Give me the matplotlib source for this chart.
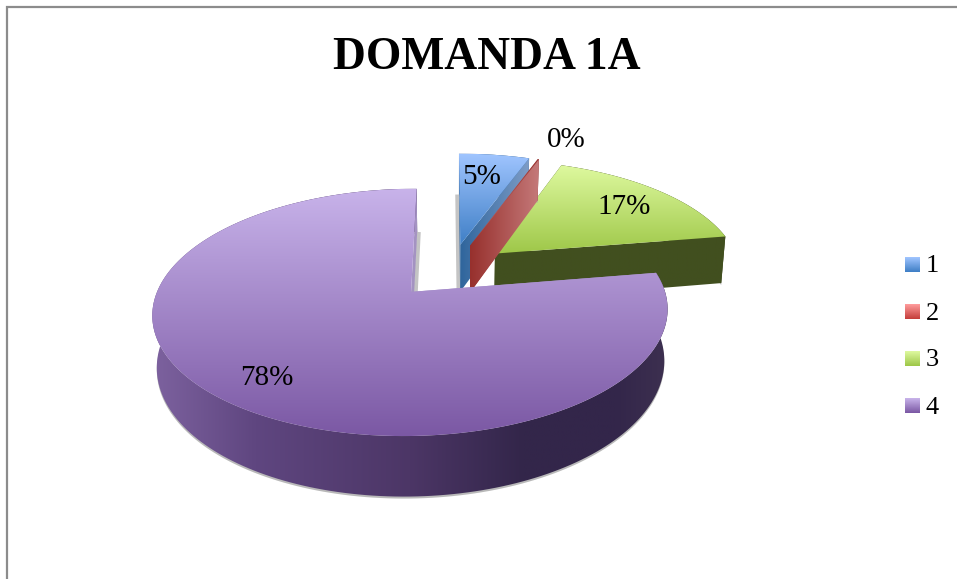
import numpy as np
import matplotlib
matplotlib.use('Agg')
import matplotlib.pyplot as plt
from matplotlib.colors import LinearSegmentedColormap
from matplotlib.patches import Polygon

# data
categories = ['1', '2', '3', '4']
values = [5.49, 0.1, 16.81, 77.6]
title = 'DOMANDA 1A'

# colours per slice: top gradient (back to front), cut face, outer wall
top_colors = [['#a0c5ff', '#3f7fc6'], ['#ff9c9c', '#c43e3b'], ['#def99f', '#9ec748'], ['#c8b3ea', '#7b58a4']]
legend_colors = top_colors
slice_top = [top_colors[0], ['#97302d', '#c57a7a'], top_colors[2], top_colors[3]]
face_colors = [['#2f659c', '#7d9cc6'], ['#97302d', '#c57a7a'], ['#414f1f', '#414f1f'], ['#a493c2', '#a493c2']]
wall_colors = [['#2f659c', '#2f659c'], ['#97302d', '#97302d'], ['#414f1f', '#414f1f'],
               [(0, '#7d629f'), (0.2, '#5f4680'), (0.5, '#4c3666'), (0.72, '#33264a'), (0.9, '#33264a'), (1, '#3d3050')]]

# perspective layout, in pixels
CX, CY = 450.5, 270.5
SCALE_X, SCALE_Y = 246.5, 113.3
PERSP = 0.161
DEPTH = 49
EXPLODE = 0.24
LABEL_R = [0.78, 1.32, 0.77, 0.78]
LABEL_NUDGE = [(-6, 4), (10, 4), (0, 3), (2, 7)]
STRIP_SIDE = [-1.5, 0, 0, 1.5]
FONT = 'Liberation Serif'

plt.rcParams['font.family'] = [FONT, 'DejaVu Serif']

fig = plt.figure(figsize=(9.57, 5.79), dpi=100)
ax = fig.add_axes([0, 0, 1, 1])


def project(u, v):
	d = 1 + PERSP * v
	return CX + SCALE_X * u / d, CY - SCALE_Y * v / d


def sink(x, y, v):
	# same point on the lower face of the disc
	return CX + (x - CX) * 0.985, y + DEPTH / (1 + PERSP * v)


def gradient(poly, colors, vertical):
	xs, ys = poly[:, 0], poly[:, 1]
	cmap = LinearSegmentedColormap.from_list('g', colors)
	ramp = np.linspace(0, 1, 256)
	ramp = ramp.reshape(-1, 1) if vertical else ramp.reshape(1, -1)
	patch = Polygon(poly, closed=True, facecolor='none', edgecolor='none', transform=ax.transData)
	ax.add_patch(patch)
	im = ax.imshow(ramp, cmap=cmap, aspect='auto', interpolation='bilinear',
		extent=[xs.min(), xs.max(), ys.max(), ys.min()], zorder=2)
	im.set_clip_path(patch)


def face(theta, ou, ov):
	u = np.array([ou, ou + np.sin(theta)])
	v = np.array([ov, ov + np.cos(theta)])
	x, y = project(u, v)
	xb, yb = sink(x, y, v)
	return np.column_stack([np.r_[x, xb[::-1]], np.r_[y, yb[::-1]]])


def draw_slice(i, start, end):
	mid = (start + end) / 2
	ou, ov = EXPLODE * np.sin(mid), EXPLODE * np.cos(mid)
	t = np.linspace(start, end, 200)
	u = ou + np.sin(t)
	v = ov + np.cos(t)
	x, y = project(u, v)
	xb, yb = sink(x, y, v)

	# soft shadow under the wall
	ax.fill(np.r_[x, xb[::-1]], np.r_[y, yb[::-1] + 2], color='#a8a8a8', alpha=0.8, lw=0, zorder=2)

	# grey strip next to the cut at twelve o'clock
	if STRIP_SIDE[i] != 0:
		f = face(0, ou, ov)
		ax.plot([f[2, 0] + STRIP_SIDE[i], f[3, 0] + STRIP_SIDE[i]], [f[2, 1], f[3, 1]],
			color='#c4c4c4', lw=3, solid_capstyle='butt', zorder=2)

	wall = np.column_stack([np.r_[x, xb[::-1]], np.r_[y, yb[::-1]]])
	gradient(wall, wall_colors[i], False)
	gradient(face(start, ou, ov), face_colors[i], False)
	gradient(face(end, ou, ov), face_colors[i], False)

	ax0, ay0 = project(ou, ov)
	top = np.column_stack([np.r_[ax0, x], np.r_[ay0, y]])
	gradient(top, slice_top[i], True)


edges = np.r_[0, np.cumsum(values)] / np.sum(values) * 2 * np.pi
for i in [2, 0, 1, 3]:
	draw_slice(i, edges[i], edges[i + 1])

# percent labels
for i in range(len(values)):
	mid = (edges[i] + edges[i + 1]) / 2
	u = (EXPLODE + LABEL_R[i]) * np.sin(mid)
	v = (EXPLODE + LABEL_R[i]) * np.cos(mid)
	lx, ly = project(u, v)
	pct = round(values[i] / sum(values) * 100)
	ax.text(lx + LABEL_NUDGE[i][0], ly + LABEL_NUDGE[i][1], '%d%%' % pct, fontsize=21,
		ha='center', va='center', color='black', zorder=5)

ax.text(487, 58, title, fontsize=32.8, fontweight='bold', ha='center', va='center', color='black', zorder=5)

# legend
for i, name in enumerate(categories):
	y0 = 257 + i * 47
	cmap = LinearSegmentedColormap.from_list('g', legend_colors[i])
	ax.imshow(np.linspace(0, 1, 32).reshape(-1, 1), cmap=cmap, aspect='auto',
		extent=[905, 920, y0 + 15, y0], zorder=3)
	ax.text(926, y0 + 9.5, name, fontsize=19, ha='left', va='center', color='black', zorder=5)

# frame of the pasted chart
ax.plot([6.5, 6.5, 957], [579, 6.5, 6.5], color='#8c8c8c', lw=1.6, solid_joinstyle='miter', zorder=6)

ax.set_xlim(0, 957)
ax.set_ylim(579, 0)
ax.axis('off')

fig.savefig('out.png', dpi=100)
